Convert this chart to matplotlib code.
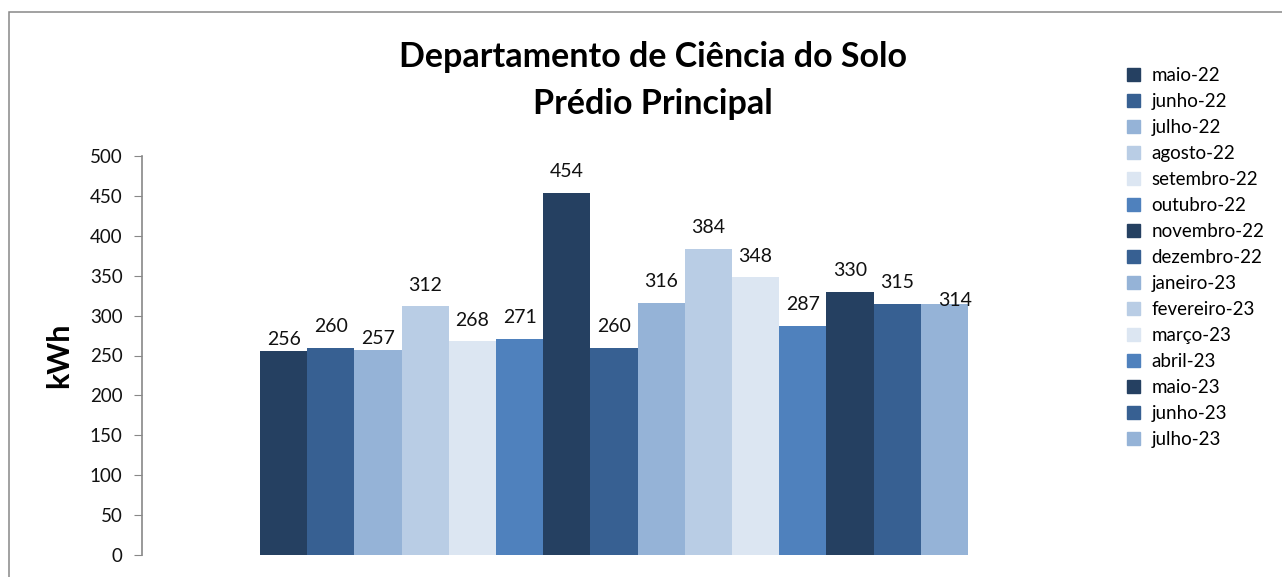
import matplotlib.pyplot as plt
from matplotlib.patches import Rectangle, Patch

# dados
meses = ['maio-22', 'junho-22', 'julho-22', 'agosto-22', 'setembro-22',
         'outubro-22', 'novembro-22', 'dezembro-22', 'janeiro-23',
         'fevereiro-23', 'março-23', 'abril-23', 'maio-23', 'junho-23',
         'julho-23']
consumo = [256, 260, 257, 312, 268, 271, 454, 260, 316, 384, 348, 287,
           330, 315, 314]

# paleta do Excel (repete a cada 6)
paleta = ['#254061', '#376092', '#95b3d7', '#b9cde5', '#dce6f2', '#4f81bd']
cores = [paleta[i % 6] for i in range(len(consumo))]

# deslocamento dos rotulos (pts) - alguns ficam mais baixos como no original
desloc = [(0, 9)] * len(consumo)
desloc[0] = (0, 2)
desloc[2] = (0, 2)
desloc[14] = (8, -3)

plt.rcParams['font.family'] = ['Lato', 'DejaVu Sans']

fig = plt.figure(figsize=(12.82, 5.77), dpi=100)
ax = fig.add_axes([142 / 1282, 22 / 577, 944 / 1282, 399 / 577])

for i, (m, v) in enumerate(zip(meses, consumo)):
    ax.bar(i, v, width=1.0, color=cores[i], label=m)
    ax.annotate(str(v), (i, v), xytext=desloc[i], textcoords='offset points',
                ha='center', va='bottom', fontsize=14, color='#111111')

ax.set_xlim(-3, 17)
ax.set_ylim(0, 500)
ax.set_yticks(range(0, 501, 50))
ax.set_xticks([])
for s in ['top', 'right', 'bottom']:
    ax.spines[s].set_visible(False)
ax.spines['left'].set_color('#888888')
ax.spines['left'].set_linewidth(1.2)
ax.tick_params(axis='y', direction='out', length=6, color='#888888',
               labelsize=13.5, labelcolor='#111111', pad=8)
ax.set_ylabel('kWh', fontsize=22, fontweight='bold')
ax.yaxis.set_label_coords(-69 / 944, 0.5)

fig.text(653 / 1282, 1 - 57 / 577, 'Departamento de Ciência do Solo',
         ha='center', va='center', fontsize=24.5, fontweight='bold')
fig.text(653 / 1282, 1 - 104 / 577, 'Prédio Principal',
         ha='center', va='center', fontsize=24.5, fontweight='bold')

handles = [Patch(color=c) for c in cores]
fig.legend(handles, meses, loc='upper left',
           bbox_to_anchor=(1110 / 1282, 1 - 50 / 577), frameon=False,
           fontsize=13.5, handlelength=0.7, handleheight=0.7,
           handletextpad=0.6, labelspacing=0.48)

# moldura do grafico
fig.add_artist(Rectangle((9 / 1282, -0.1), 1.2, 1 - 12 / 577 + 0.1,
                         transform=fig.transFigure, fill=False,
                         edgecolor='#888888', linewidth=1.1))

fig.savefig('out.png', dpi=100)
